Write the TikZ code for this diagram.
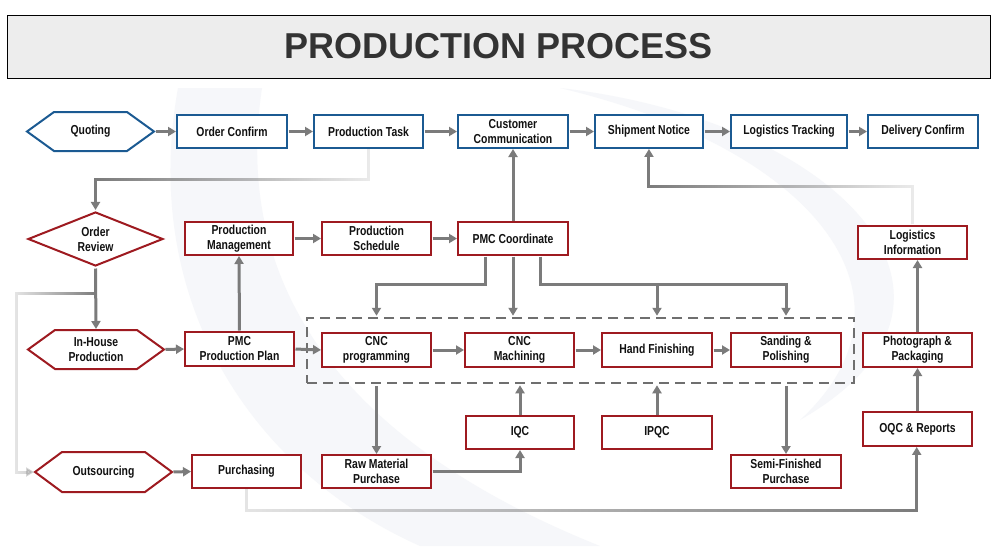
\documentclass[tikz,border=0pt]{standalone}
\usepackage{fontspec}
\setmainfont{Liberation Sans}[FakeStretch=0.8]
\newfontfamily\titlefont{Liberation Sans}
\usetikzlibrary{arrows.meta,shapes.geometric,fadings,calc}
\definecolor{bblue}{HTML}{1B5A92}
\definecolor{bred}{HTML}{9E1A20}
\definecolor{agray}{HTML}{7B7B7B}
\definecolor{txt}{HTML}{111111}
\definecolor{wmark}{HTML}{F6F7FA}
\tikzfading[name=fadeR, left color=transparent!0, right color=transparent!85]
\tikzfading[name=fadeL, left color=transparent!80, right color=transparent!0]
\newcommand\drawhex[2]{\draw[#2] (#1.west) -- ([xshift=27pt]#1.north west) -- ([xshift=-27pt]#1.north east) -- (#1.east) -- ([xshift=-27pt]#1.south east) -- ([xshift=27pt]#1.south west) -- cycle;}
\tikzset{
  lbl/.style={font=\bfseries\fontsize{13}{15}\selectfont, text=txt, align=center, inner sep=0pt, outer sep=0pt},
  bbox/.style={lbl, draw=bblue, line width=2pt, fill=white, minimum width=109pt, minimum height=33pt},
  rbox/.style={lbl, draw=bred, line width=2pt, fill=white, minimum width=109pt, minimum height=33pt},
  hexlbl/.style={lbl, minimum height=39pt},
  hexblue/.style={draw=bblue, line width=2pt, fill=white},
  hexred/.style={draw=bred, line width=2pt, fill=white},
  arr/.style={draw=agray, line width=3pt, -{Triangle[length=8pt,width=9pt]}, shorten <=1.5pt, shorten >=1pt},
  grpbox/.style={draw=agray!90!black, line width=2.5pt, dash pattern=on 10pt off 6pt, inner sep=0pt, minimum width=547pt, minimum height=65pt}
}
\begin{document}
\begin{tikzpicture}[x=1pt,y=-1pt]
\useasboundingbox (0,0) rectangle (1000,546);
\fill[white] (0,0) rectangle (1000,546);
% faint watermark
\fill[wmark] (178,88) .. controls (140,300) and (250,470) .. (420,546) -- (600,546) .. controls (360,450) and (230,300) .. (262,88) -- cycle;
\fill[wmark] (560,88) .. controls (840,120) and (1010,300) .. (800,420) .. controls (930,300) and (820,150) .. (560,88) -- cycle;
% title
\node[draw=black, line width=1pt, fill=black!7, minimum width=983pt, minimum height=63pt, inner sep=0pt] (titlebox) at (498.5,46.5) {};
\node[font=\titlefont\bfseries\fontsize{36}{40}\selectfont, text=black!80, inner sep=0pt] (title) at (499,46) {PRODUCTION PROCESS};
% dashed group
\node[grpbox] (grp) at (580.5,350.5) {};
% row 1
\node[hexlbl, minimum width=127pt] (quoting) at (90.5,131.5) {};
\drawhex{quoting}{hexblue}
\node[lbl] at (quoting) {Quoting};
\node[bbox, minimum width=110pt] (oc) at (232,131.5) {Order Confirm};
\node[bbox] (ptask) at (368.5,131.5) {Production Task};
\node[bbox, minimum width=110pt] (cust) at (513,131.5) {Customer\\Communication};
\node[bbox, minimum width=108pt] (ship) at (649,131.5) {Shipment Notice};
\node[bbox, minimum width=116pt] (ltrack) at (789,131.5) {Logistics Tracking};
\node[bbox, minimum width=110pt] (deliv) at (923,131.5) {Delivery Confirm};
% row 2
\node[diamond, aspect=2.5, draw=bred, line width=2pt, fill=white, minimum width=135pt, minimum height=54pt, inner sep=0pt] (orev) at (95.5,239) {};
\node[lbl] at (orev) {Order\\Review};
\node[rbox, minimum width=108pt] (pmgmt) at (239,238.5) {Production\\Management};
\node[rbox] (psched) at (376.5,238.5) {Production\\Schedule};
\node[rbox, minimum width=110pt] (pmcc) at (513,238.5) {PMC Coordinate};
\node[rbox] (loginfo) at (912.5,242.5) {Logistics\\Information};
% row 3
\node[hexlbl, minimum width=136pt] (ih) at (96,349.5) {};
\drawhex{ih}{hexred}
\node[lbl] at (ih) {In-House\\Production};
\node[rbox, minimum height=34pt] (plan) at (239.5,349) {PMC\\Production Plan};
\node[rbox, minimum height=34pt] (cncp) at (376.5,350) {CNC\\programming};
\node[rbox, minimum height=34pt] (cncm) at (519.5,350) {CNC\\Machining};
\node[rbox, minimum width=110pt, minimum height=34pt] (hand) at (657,350) {Hand Finishing};
\node[rbox, minimum width=110pt, minimum height=34pt] (sand) at (786,350) {Sanding \&\\Polishing};
\node[rbox, minimum height=34pt] (photo) at (917.5,350) {Photograph \&\\Packaging};
% row 4
\node[rbox, minimum width=108pt] (iqc) at (520,432.5) {IQC};
\node[rbox, minimum width=110pt] (ipqc) at (657,432.5) {IPQC};
\node[rbox, minimum height=34pt] (oqc) at (917.5,429) {OQC \& Reports};
\node[hexlbl, minimum width=137pt, minimum height=40pt] (os) at (103.5,472) {};
\drawhex{os}{hexred}
\node[lbl] at (os) {Outsourcing};
\node[rbox] (purch) at (246.5,471.5) {Purchasing};
\node[rbox] (raw) at (376.5,471.5) {Raw Material\\Purchase};
\node[rbox, minimum width=110pt] (semi) at (786,471.5) {Semi-Finished\\Purchase};
% coordinates
\coordinate (busL) at ($(pmcc.south)+(-28,29)$);
\coordinate (busR) at ($(pmcc.south)+(27,29)$);
\coordinate (br) at ($(orev.south)+(0,26)$);
% connectors row 1
\draw[arr] (quoting.east) -- (oc.west);
\draw[arr] (oc.east) -- (ptask.west);
\draw[arr] (ptask.east) -- (cust.west);
\draw[arr] (cust.east) -- (ship.west);
\draw[arr] (ship.east) -- (ltrack.west);
\draw[arr] (ltrack.east) -- (deliv.west);
% faded connectors
\draw[arr, path fading=fadeR] (ptask.south) -- ++(0,32) -| (orev.north);
\draw[arr, path fading=fadeR] (loginfo.north) -- ++(0,-39) -| (ship.south);
\draw[arr, path fading=fadeL] (br) -- ++(-79,0) |- (os.west);
\draw[arr, path fading=fadeL] (purch.south) -- ++(0,22) -| (oqc.south);
% row 2
\draw[arr] (pmgmt.east) -- (psched.west);
\draw[arr] (psched.east) -- (pmcc.west);
\draw[arr] (pmcc.north) -- (cust.south);
\draw[arr] (orev.south) -- (ih.north);
\draw[arr] (plan.north) -- (pmgmt.south);
% PMC coordinate to group
\draw[arr] ([xshift=-28pt]pmcc.south) -- (busL) -| (cncp.north |- grp.north);
\draw[arr] (pmcc.south) -- (pmcc.south |- grp.north);
\draw[arr] ([xshift=27pt]pmcc.south) -- (busR) -| (sand.north |- grp.north);
\draw[arr] (hand.north |- busR) -- (hand.north |- grp.north);
% row 3
\draw[arr] (ih.east) -- (plan.west);
\draw[arr] (plan.east) -- (cncp.west);
\draw[arr] (cncp.east) -- (cncm.west);
\draw[arr] (cncm.east) -- (hand.west);
\draw[arr] (hand.east) -- (sand.west);
\draw[arr] (photo.north) -- (photo.north |- loginfo.south);
% row 4
\draw[arr] (cncp.south |- grp.south) -- (raw.north);
\draw[arr] (raw.east) -| (iqc.south);
\draw[arr] (iqc.north) -- (iqc.north |- grp.south);
\draw[arr] (ipqc.north) -- (ipqc.north |- grp.south);
\draw[arr] (semi.north |- grp.south) -- (semi.north);
\draw[arr] (oqc.north) -- (photo.south);
\draw[arr] (os.east) -- (purch.west);
\end{tikzpicture}
\end{document}
